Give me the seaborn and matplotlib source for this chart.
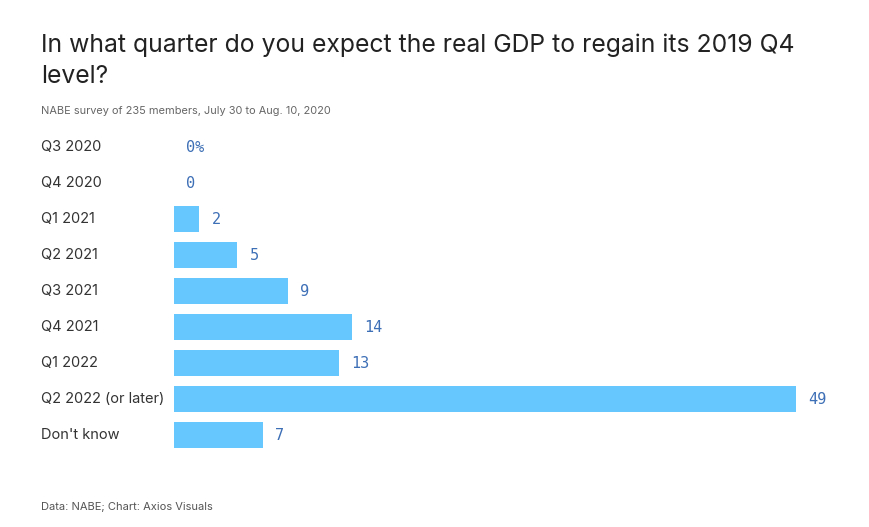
import matplotlib
matplotlib.use('Agg')
import matplotlib.pyplot as plt
import pandas as pd
import seaborn as sns

# survey answers (share of respondents, %)
quarters = ['Q3 2020', 'Q4 2020', 'Q1 2021', 'Q2 2021', 'Q3 2021',
            'Q4 2021', 'Q1 2022', 'Q2 2022 (or later)', "Don't know"]
shares = [0, 0, 2, 5, 9, 14, 13, 49, 7]

df = pd.DataFrame({'quarter': quarters, 'share': shares})

sns.set_theme(style='white')
plt.rcParams['font.family'] = ['Inter', 'DejaVu Sans']

W, H = 870, 527
fig = plt.figure(figsize=(W / 100, H / 100), dpi=100)

# axes placed in pixel coords: bars start at x=174, rows from y=129 to 453
left, right, top, bottom = 174, 850, 129, 453
ax = fig.add_axes([left / W, 1 - bottom / H, (right - left) / W, (bottom - top) / H])

sns.barplot(data=df, x='share', y='quarter', orient='h', color='#66c7ff',
            saturation=1, width=0.72, linewidth=0, ax=ax)

px_per_unit = (796 - 174) / 49
ax.set_xlim(0, (right - left) / px_per_unit)
ax.set_ylim(len(quarters) - 0.5, -0.5)
ax.set_xlabel('')
ax.set_ylabel('')
ax.set_xticks([])
ax.set_yticks([])
for s in ax.spines.values():
    s.set_visible(False)

# value labels
for i, v in enumerate(shares):
    txt = '0%' if i == 0 else str(v)
    ax.text(v + 12 / px_per_unit, i, txt, va='center', ha='left',
            fontsize=11, color='#3d6fb6', family='DejaVu Sans Mono')

# category labels at the left edge of the figure
for i, q in enumerate(quarters):
    y = top + 36 * i + 18
    fig.text(41 / W, 1 - y / H, q, ha='left', va='center',
             fontsize=10.5, color='#333333')

fig.text(41 / W, 1 - 45 / H, 'In what quarter do you expect the real GDP to regain its 2019 Q4',
         ha='left', va='center', fontsize=17.8, color='#222222')
fig.text(41 / W, 1 - 76 / H, 'level?', ha='left', va='center',
         fontsize=17.8, color='#222222')
fig.text(41 / W, 1 - 111 / H, 'NABE survey of 235 members, July 30 to Aug. 10, 2020',
         ha='left', va='center', fontsize=7.9, color='#666666')
fig.text(41 / W, 1 - 507 / H, 'Data: NABE; Chart: Axios Visuals',
         ha='left', va='center', fontsize=8, color='#555555')

fig.savefig('out.png', dpi=100)
